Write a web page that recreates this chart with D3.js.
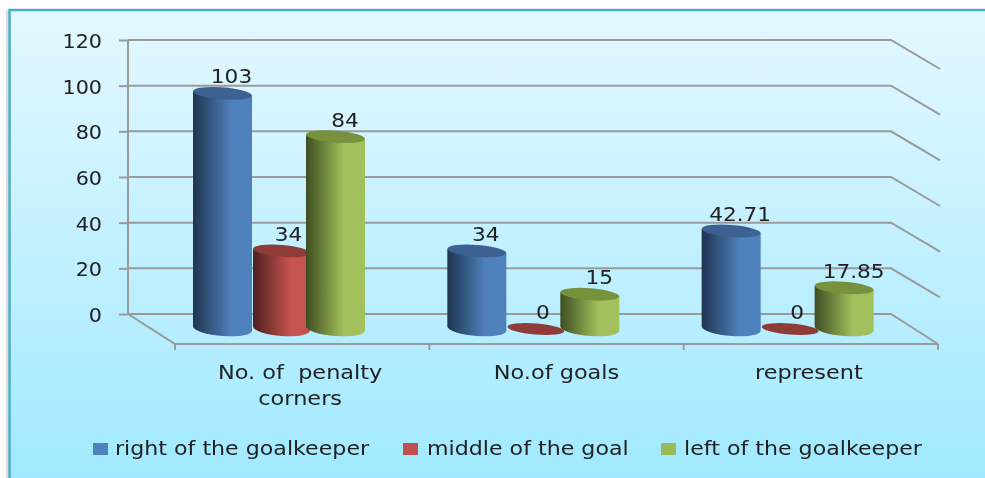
<!DOCTYPE html>
<html><head><meta charset="utf-8">
<script src="https://cdnjs.cloudflare.com/ajax/libs/d3/7.8.5/d3.min.js"></script>
<style>
html,body{margin:0;padding:0;background:#fff;overflow:hidden}
svg{display:block}
text{font-family:"DejaVu Sans",sans-serif;fill:#222;white-space:pre}
</style></head><body>
<script>
const categories=[["No. of  penalty","corners"],["No.of goals"],["represent"]];
const seriesNames=["right of the goalkeeper","middle of the goal","left of the goalkeeper"];
const right=[103,34,42.71];
const middle=[34,0,0];
const left=[84,15,17.85];
const yTicks=[0,20,40,60,80,100,120];
const barColors=[["#1f3450","#4f81bd","#3c6291"],["#4f1f1e","#c5524f","#8f3a38"],["#3f4e22","#a2c15c","#76923c"]];
const swatchColors=["#4f81bd","#c0504d","#9bbb59"];

const W=985,H=478,FS=19;
const svg=d3.select("body").append("svg").attr("width",W).attr("height",H);
const defs=svg.append("defs");
const bg=defs.append("linearGradient").attr("id","bg").attr("x1",0).attr("x2",0).attr("y1",0).attr("y2",1);
bg.append("stop").attr("offset",0).attr("stop-color","#e4f8ff");
bg.append("stop").attr("offset",1).attr("stop-color","#9fe9ff");
barColors.forEach((c,i)=>{
  const g=defs.append("linearGradient").attr("id","cyl"+i);
  g.append("stop").attr("offset",0).attr("stop-color",c[0]);
  g.append("stop").attr("offset",.65).attr("stop-color",c[1]);
  g.append("stop").attr("offset",1).attr("stop-color",c[1]);
});
defs.append("filter").attr("id","soft").append("feGaussianBlur").attr("stdDeviation",.5);
const stretch=k=>sel=>sel.each(function(){
  d3.select(this).attr("textLength",this.getComputedTextLength()*k).attr("lengthAdjust","spacingAndGlyphs");
});

svg.append("rect").attr("x",6).attr("y",10).attr("width",2).attr("height",H).attr("fill","#dcdcdc");
svg.append("rect").attr("x",9.5).attr("y",10).attr("width",W).attr("height",H)
  .attr("fill","url(#bg)").attr("stroke","#4bacc6").attr("stroke-width",2.5);

const root=svg.append("g").attr("filter","url(#soft)");
const y=d3.scaleLinear().domain([0,120]).range([314,40]);
const x=d3.scaleBand().domain(d3.range(categories.length)).range([175,938]);
const depthX=47,depthY=30;
const wallL=128,wallR=891;
const grid="#9a9a9a";

const gridG=root.append("g").attr("fill","none").attr("stroke",grid).attr("stroke-width",2);
yTicks.forEach(t=>{
  const py=y(t);
  gridG.append("path").attr("d",d3.line()([[wallL,py],[wallR,py],[wallR+depthX+(t?2:0),py+depthY-(t?1:0)]]));
});
gridG.append("path").attr("d",d3.line()([[wallL,y(0)],[wallL,y(120)]]));
gridG.append("path").attr("d",d3.line()([[wallL,y(0)],[x.range()[0],y(0)+depthY],[x.range()[1],y(0)+depthY]]));
const yAxis=d3.axisLeft(y).tickValues(yTicks).tickSize(9).tickPadding(17);
const ya=root.append("g").attr("transform",`translate(${wallL},0)`).call(yAxis);
ya.select(".domain").remove();
ya.selectAll("line").attr("stroke",grid).attr("stroke-width",2);
ya.selectAll("text").attr("font-size",FS).attr("dy",null).attr("y",7.5).attr("fill","#222").style("font-family",'"DejaVu Sans",sans-serif').call(stretch(1.09));
d3.range(categories.length+1).forEach(i=>{
  const px=i<categories.length?x(i):x.range()[1];
  gridG.append("line").attr("x1",px).attr("x2",px).attr("y1",y(0)+depthY).attr("y2",y(0)+depthY+6);
});

const perUnit=y(0)-y(1);
const baseY=328.5;
const barW=[59,57,59];
const barOff=[18,78,131];
const rot=4.5;
const ell=(g,cx,cy,rx,ry,fill)=>g.append("ellipse").attr("cx",cx).attr("cy",cy).attr("rx",rx).attr("ry",ry)
  .attr("fill",fill).attr("transform",`rotate(${rot} ${cx} ${cy})`);
const seriesVals=[right,middle,left];
const labelDx=[9,7,9.5];
const marks=root.append("g");
const labels=[];
categories.forEach((c,ci)=>{
  [1,0,2].forEach(si=>{
    const v=seriesVals[si][ci];
    const x0=x(ci)+barOff[si],w=barW[si],cx=x0+w/2,rx=w/2;
    const top=baseY-v*perUnit;
    const g=marks.append("g");
    if(v>0){
      const ry=6;
      g.append("path").attr("d",`M${x0},${baseY-2}A${rx},${ry+1.5} ${rot} 0 0 ${x0+w},${baseY+2}L${x0+w},${top+2}L${x0},${top-2}Z`)
       .attr("fill",`url(#cyl${si})`);
      ell(g,cx,top,rx,ry,barColors[si][2]);
    } else {
      ell(g,cx,baseY+.5,rx,5.5,barColors[si][2]);
    }
    labels.push({t:String(v),x:cx+labelDx[si],y:top-10});
  });
});
const lab=root.append("g");
labels.forEach(l=>lab.append("text").attr("x",l.x).attr("y",l.y).attr("text-anchor","middle").attr("font-size",FS).text(l.t).call(stretch(1.14)));

const catDx=[-2,0,-2];
categories.forEach((c,i)=>{
  c.forEach((line,j)=>root.append("text").attr("x",x(i)+x.bandwidth()/2+catDx[i]).attr("y",379+j*26)
    .attr("text-anchor","middle").attr("font-size",FS).text(line).call(stretch(1.18)));
});
const legX=[93,403,661],legT=[115,427,684];
seriesNames.forEach((n,i)=>{
  root.append("rect").attr("x",legX[i]).attr("y",443).attr("width",15).attr("height",12).attr("fill",swatchColors[i]);
  root.append("text").attr("x",legT[i]).attr("y",455).attr("font-size",FS).text(n).call(stretch(1.165));
});
</script>
</body></html>
